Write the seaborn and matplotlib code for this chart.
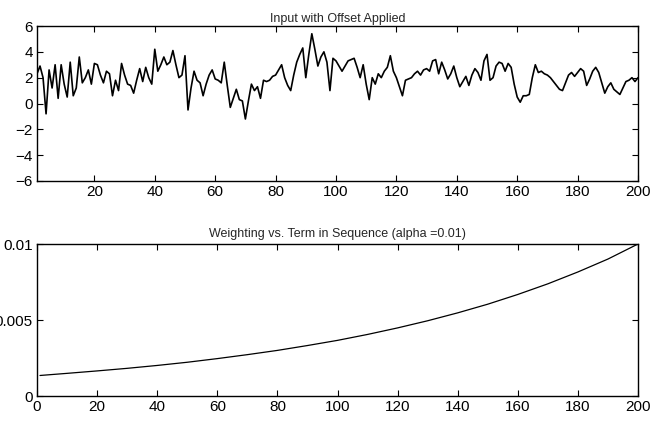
import numpy as np
import pandas as pd
import matplotlib
matplotlib.use("Agg")
import matplotlib.pyplot as plt
import seaborn as sns

# ---- data ----
signal = [
    2.3, 2.9, 2.0, -0.8, 2.6, 1.2, 3.0, 0.4, 3.0, 1.5,
    0.5, 3.2, 0.6, 1.2, 3.6, 1.6, 2.0, 2.6, 1.5, 3.1,
    3.0, 2.2, 1.6, 2.5, 2.3, 0.6, 1.8, 1.0, 3.1, 2.2,
    1.5, 1.4, 0.8, 1.8, 2.7, 1.7, 2.8, 2.0, 1.5, 4.2,
    2.5, 3.0, 3.6, 3.0, 3.2, 4.1, 3.0, 2.0, 2.2, 3.7,
    -0.5, 1.2, 2.5, 1.8, 1.6, 0.6, 1.5, 2.2, 2.6, 1.9,
    1.8, 1.6, 3.2, 1.4, -0.3, 0.4, 1.1, 0.3, 0.2, -1.2,
    0.2, 1.5, 1.0, 1.3, 0.4, 1.8, 1.7, 1.8, 2.1, 2.2,
    2.6, 3.0, 2.0, 1.4, 1.0, 2.2, 3.2, 3.8, 4.3, 2.0,
    3.8, 5.4, 4.2, 2.9, 3.6, 4.0, 3.2, 1.0, 3.5, 3.3,
    2.9, 2.5, 2.9, 3.3, 3.4, 3.5, 2.8, 2.0, 3.0, 1.5,
    0.3, 2.0, 1.5, 2.3, 2.0, 2.5, 2.8, 3.7, 2.5, 2.0,
    1.3, 0.6, 1.8, 1.9, 2.0, 2.3, 2.5, 2.2, 2.6, 2.7,
    2.5, 3.3, 3.4, 2.3, 3.2, 2.6, 1.9, 2.3, 2.9, 2.0,
    1.3, 1.7, 2.1, 1.4, 2.2, 2.7, 2.4, 1.8, 3.3, 3.8,
    1.8, 2.0, 2.9, 3.2, 3.1, 2.5, 3.1, 2.8, 1.5, 0.5,
    0.1, 0.6, 0.6, 0.7, 2.0, 3.0, 2.4, 2.5, 2.3, 2.2,
    2.0, 1.7, 1.4, 1.1, 1.0, 1.6, 2.2, 2.4, 2.1, 2.4,
    2.7, 2.5, 1.4, 1.9, 2.5, 2.8, 2.4, 1.6, 0.8, 1.3,
    1.6, 1.1, 0.9, 0.7, 1.2, 1.7, 1.8, 2.0, 1.7, 2.0,
]
term = list(range(1, 201))

weight_term = [1, 10, 20, 30, 40, 50, 60, 70, 80, 90, 100,
               110, 120, 130, 140, 150, 160, 170, 180, 190, 200]
weight_val = [0.00135, 0.00149, 0.00165, 0.00182, 0.00201, 0.00222, 0.00246,
              0.00272, 0.00300, 0.00332, 0.00366, 0.00405, 0.00448, 0.00495,
              0.00547, 0.00604, 0.00668, 0.00738, 0.00816, 0.00901, 0.0100]

top_title = "Input with Offset Applied"
bot_title = "Weighting vs. Term in Sequence (alpha =0.01)"
top_yticks = [-6, -4, -2, 0, 2, 4, 6]
top_xticks = [20, 40, 60, 80, 100, 120, 140, 160, 180, 200]
bot_yticks = [0, 0.005, 0.01]
bot_yticklabels = ["0", "0.005", "0.01"]
bot_xticks = [0, 20, 40, 60, 80, 100, 120, 140, 160, 180, 200]

# ---- styling ----
sns.set_style("ticks")
plt.rcParams['font.family'] = ['Liberation Sans', 'DejaVu Sans']

W, H = 654, 442
fig = plt.figure(figsize=(W / 100, H / 100), dpi=100)

def frac(l, t, r, b):
    return [l / W, 1 - b / H, (r - l) / W, (b - t) / H]

ax1 = fig.add_axes(frac(37, 26, 638, 181))
ax2 = fig.add_axes(frac(37, 244, 638, 396))

df1 = pd.DataFrame({"term": term, "value": signal})
df2 = pd.DataFrame({"term": weight_term, "value": weight_val})

sns.lineplot(data=df1, x="term", y="value", ax=ax1, color="black", linewidth=1.2)
sns.lineplot(data=df2, x="term", y="value", ax=ax2, color="black", linewidth=0.9)

ax1.set_xlim(1, 200)
ax1.set_ylim(-6, 6)
ax1.set_xticks(top_xticks)
ax1.set_yticks(top_yticks)
ax1.set_title(top_title, fontsize=9, pad=3)

ax2.set_xlim(0, 200)
ax2.set_ylim(0, 0.01)
ax2.set_xticks(bot_xticks)
ax2.set_yticks(bot_yticks)
ax2.set_yticklabels(bot_yticklabels)
ax2.set_title(bot_title, fontsize=9, pad=5)

for ax in (ax1, ax2):
    ax.set_xlabel("")
    ax.set_ylabel("")
    for s in ax.spines.values():
        s.set_visible(True)
        s.set_linewidth(1.0)
        s.set_color("black")
    ax.tick_params(direction="in", top=True, right=True, length=4,
                   width=0.8, labelsize=11, pad=3, colors="black")

fig.savefig("out.png", dpi=100)
